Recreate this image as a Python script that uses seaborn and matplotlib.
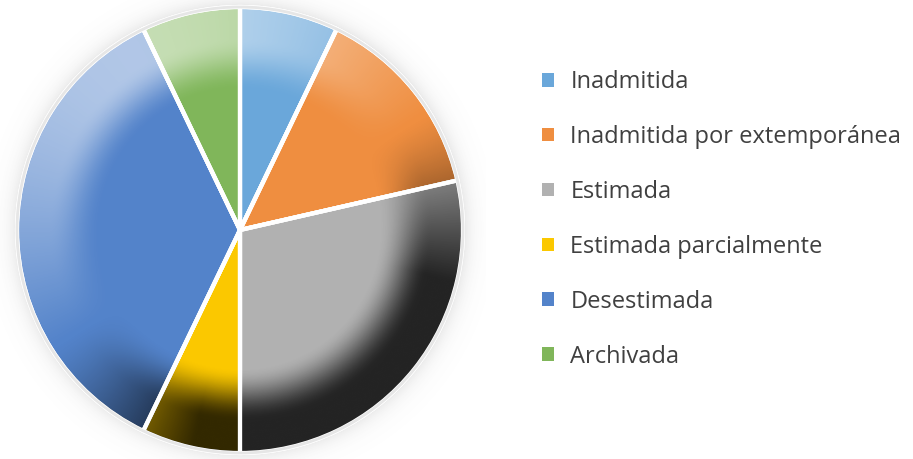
import numpy as np
import matplotlib
matplotlib.use("Agg")
import matplotlib.pyplot as plt
import seaborn as sns
from matplotlib.patches import Patch, Circle

# datos del gráfico
categorias = ["Inadmitida", "Inadmitida por extemporánea", "Estimada",
              "Estimada parcialmente", "Desestimada", "Archivada"]
valores = [10, 20, 40, 10, 50, 10]
colores = ["#6aa7da", "#ef8e40", "#b1b1b1", "#fbc800", "#5383ca", "#80b65a"]

sns.set_theme(style="white")
plt.rcParams['font.family'] = ['Open Sans', 'DejaVu Sans']

W, H = 913, 459
fig = plt.figure(figsize=(W / 100, H / 100), dpi=100)

# eje del pastel, centro (240, 230) px y radio 223 px
cx, cy, R = 240, 230, 223
lim = 1.1
half = R * lim
ax = fig.add_axes([(cx - half) / W, (H - cy - half) / H, 2 * half / W, 2 * half / H])
ax.set_xlim(-lim, lim)
ax.set_ylim(-lim, lim)
ax.set_aspect('equal')
ax.axis('off')

# sombra difusa alrededor
n = 800
g = np.linspace(-lim, lim, n)
X, Y = np.meshgrid(g, g)
r = np.sqrt(X ** 2 + Y ** 2)
sombra = np.zeros((n, n, 4))
sombra[..., :3] = 0.35
sombra[..., 3] = np.where(r >= 0.97, 0.32 * np.exp(-(r - 0.97) / 0.04), 0)
ax.imshow(sombra, extent=(-lim, lim, -lim, lim), origin='lower', zorder=0,
          interpolation='bilinear')

wedges, _ = ax.pie(valores, colors=colores, startangle=90, counterclock=False,
                   radius=1, wedgeprops=dict(edgecolor='white', linewidth=3))
for w in wedges:
    w.set_zorder(1)

# efecto de bisel (luz arriba a la izquierda)
ang = np.arctan2(Y, X)
d = np.cos(ang - np.deg2rad(122))
t = np.clip((r - 0.62) / 0.24, 0, 1)
t = t * t * (3 - 2 * t)
luz = np.clip(d, 0, 1) * t
osc = np.clip(-d * 1.4, 0, 1) ** 1.3 * t
brillo = np.zeros((n, n, 4))
brillo[..., :3] = np.where(d[..., None] > 0, 1.0, 0.0)
brillo[..., 3] = np.where(d > 0, 0.55 * luz, 0.8 * osc)
im = ax.imshow(brillo, extent=(-lim, lim, -lim, lim), origin='lower', zorder=2,
               interpolation='bilinear')
im.set_clip_path(Circle((0, 0), 1, transform=ax.transData))

# bordes blancos por encima
bordes, _ = ax.pie(valores, startangle=90, counterclock=False, radius=1,
                   wedgeprops=dict(facecolor='none', edgecolor='white', linewidth=3))
for b in bordes:
    b.set_zorder(3)
ax.add_patch(Circle((0, 0), 1, facecolor='none', edgecolor='#e6e6e6',
                    linewidth=2, zorder=4))
ax.set_xlim(-lim, lim)
ax.set_ylim(-lim, lim)

handles = [Patch(facecolor=c, edgecolor='none') for c in colores]
fig.legend(handles, categorias, loc='upper left', bbox_to_anchor=(542 / W, 1 - 70 / H),
           frameon=False, fontsize=17, handlelength=0.52, handleheight=0.52,
           handletextpad=0.68, labelspacing=1.31, borderaxespad=0, borderpad=0,
           labelcolor='#404040')

fig.savefig('out.png', dpi=100)
